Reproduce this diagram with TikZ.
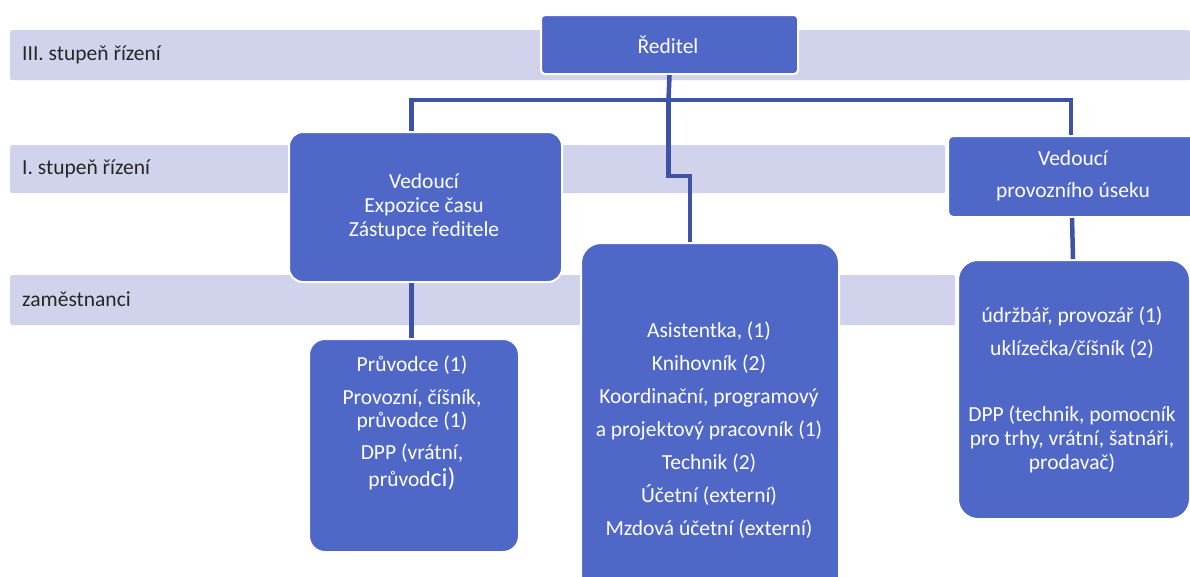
\documentclass[tikz,border=0pt]{standalone}
\usepackage{fontspec}
\setmainfont{Carlito}
\definecolor{boxblue}{HTML}{4F68C8}
\definecolor{linkblue}{HTML}{3E53A8}
\definecolor{bandcol}{HTML}{D1D3EC}
\definecolor{labelcol}{HTML}{262626}
\begin{document}
\begin{tikzpicture}[x=1pt,y=-1pt,
  font=\fontsize{21.5}{24}\selectfont,
  bandbox/.style={fill=bandcol,rounded corners=2pt,anchor=north west,inner sep=0pt,minimum height=50pt},
  bandlabel/.style={text=labelcol,anchor=west,inner sep=0pt},
  orgbox/.style={fill=boxblue,draw=white,line width=2pt,anchor=north west,inner sep=0pt},
  boxtext/.style={text=white,align=center,inner sep=0pt},
  link/.style={draw=linkblue,line width=4.5pt}]
\useasboundingbox (0,0) rectangle (1190,576);
% bands
\node[bandbox,minimum width=1180pt] (b1) at (10,30) {};
\node[bandbox,minimum width=935pt,minimum height=48pt] (b2) at (10,145) {};
\node[bandbox,minimum width=945pt] (b3) at (10,275) {};
\node[bandlabel] (l1) at (22,55) {III. stupeň řízení};
\node[bandlabel] (l2) at (22,169) {I. stupeň řízení};
\node[bandlabel] (l3) at (22,299) {zaměstnanci};
% boxes
\node[orgbox,rounded corners=4pt,minimum width=257pt,minimum height=59pt] (dir) at (540,14) {};
\node[orgbox,rounded corners=14pt,minimum width=273pt,minimum height=150pt] (ved1) at (288,131) {};
\node[orgbox,rounded corners=5pt,minimum width=250pt,minimum height=81pt] (ved2) at (947,135) {};
\node[orgbox,rounded corners=16pt,minimum width=210pt,minimum height=213pt] (emp1) at (308,338) {};
\node[orgbox,rounded corners=20pt,minimum width=258pt,minimum height=360pt] (emp2) at (580,242) {};
\node[orgbox,rounded corners=20pt,minimum width=232pt,minimum height=259pt] (emp3) at (957,259) {};
% connectors
\coordinate (j) at (668.5,100);
\draw[link] (dir.south) -- (j);
\draw[link] ([xshift=-14pt]ved1.north) |- (j) -| ([xshift=-2pt]ved2.north);
\draw[link] (j) -- (668.5,176) -| ([xshift=-20pt]emp2.north);
\draw[link] ([xshift=-14pt]ved1.south) -- ([xshift=-2.5pt]emp1.north);
\draw[link] ([xshift=-1pt]ved2.south) -- ([xshift=-1pt]emp3.north);
% texts
\node[boxtext] (tdir) at (668,45) {Ředitel};
\node[boxtext] (tv1) at (424,207) {Vedoucí\\Expozice času\\Zástupce ředitele};
\node[boxtext] (tv2a) at (1073,158) {Vedoucí};
\node[boxtext] (tv2b) at (1073,192) {provozního úseku};
\node[boxtext] (te1a) at (412,365) {Průvodce (1)};
\node[boxtext] (te1b) at (412,410) {Provozní, číšník,\\[-1pt]průvodce (1)};
\node[boxtext] (te1c) at (412,467) {DPP (vrátní,\\[3pt]průvod{\fontsize{26}{24}\selectfont ci)}};
\node[boxtext] (te2) at (709,430) {Asistentka, (1)\\[9pt]Knihovník (2)\\[9pt]Koordinační, programový\\[9pt]a projektový pracovník (1)\\[9pt]Technik (2)\\[9pt]Účetní (externí)\\[9pt]Mzdová účetní (externí)};
\node[boxtext] (te3a) at (1072,333) {údržbář, provozář (1)\\[9pt]uklízečka/číšník (2)};
\node[boxtext] (te3b) at (1072,439) {DPP (technik, pomocník\\pro trhy, vrátní, šatnáři,\\prodavač)};
\end{tikzpicture}
\end{document}
